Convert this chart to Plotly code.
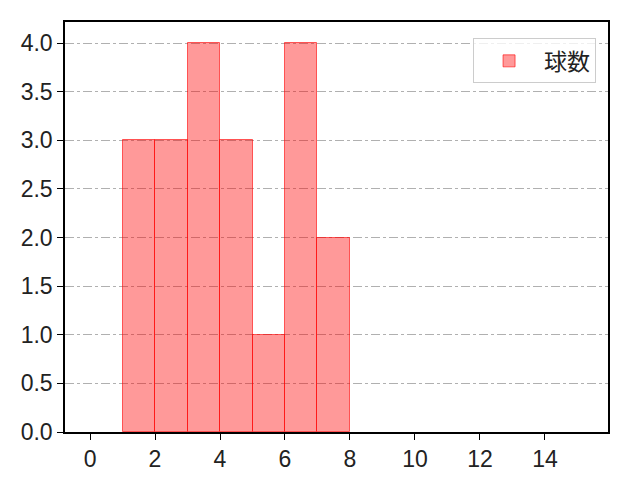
import plotly.graph_objects as go

# histogram bins (left edges) and counts
bin_left = [1, 2, 3, 4, 5, 6, 7]
counts = [3, 3, 4, 3, 1, 4, 2]
series_name = "球数"

x_ticks = [0, 2, 4, 6, 8, 10, 12, 14]
y_ticks = [0.0, 0.5, 1.0, 1.5, 2.0, 2.5, 3.0, 3.5, 4.0]

font_family = "Liberation Sans, Noto Sans CJK JP, sans-serif"

fig = go.Figure()
fig.add_trace(go.Bar(
    x=[b + 0.5 for b in bin_left],
    y=counts,
    width=1,
    name=series_name,
    marker=dict(color="rgba(255,0,0,0.4)",
                line=dict(color="rgba(255,0,0,0.6)", width=1)),
    showlegend=True,
))

axis_common = dict(
    showline=True, linecolor="black", linewidth=1.5, mirror=True,
    ticks="outside", ticklen=6, tickwidth=1.2, tickcolor="black",
    zeroline=False,
    tickfont=dict(size=23, color="#222222", family=font_family),
)

fig.update_xaxes(range=[-0.77, 15.94], tickvals=x_ticks,
                 showgrid=False, **axis_common)
fig.update_yaxes(range=[0, 4.216], tickvals=y_ticks,
                 ticktext=[f"{v:.1f}" for v in y_ticks],
                 showgrid=True, gridcolor="#b0b0b0", griddash="dashdot",
                 gridwidth=1, **axis_common)

# page body adds ~8px offset, so margins are shifted accordingly
fig.update_layout(
    width=640, height=480,
    margin=dict(l=57, r=40, t=14, b=56, autoexpand=False),
    plot_bgcolor="white", paper_bgcolor="white",
    font=dict(family=font_family, size=20, color="#222222"),
    bargap=0,
    legend=dict(x=0.978, y=0.96, xanchor="right", yanchor="top",
                bgcolor="rgba(255,255,255,0.8)", bordercolor="#cccccc",
                borderwidth=1, font=dict(size=23), itemwidth=60),
)

fig.write_html("out.html")
